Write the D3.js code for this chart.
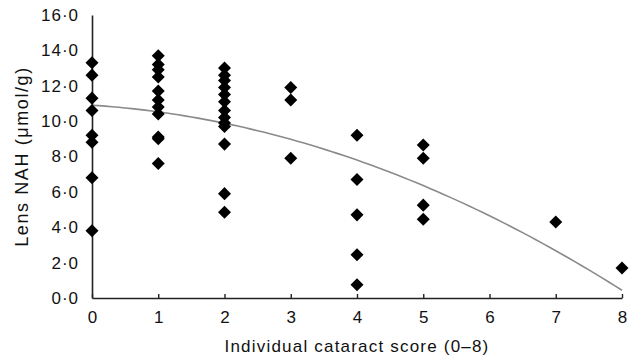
<!DOCTYPE html>
<html>
<head>
<meta charset="utf-8">
<script src="https://cdn.jsdelivr.net/npm/d3@7"></script>
<style>
  body { margin: 0; background: #fff; }
  text { font-family: "Liberation Sans", Arial, sans-serif; fill: #111; letter-spacing: 1px; }
</style>
</head>
<body>
<div id="graph"></div>
<script>
// cataract score per column and the NAH values read for each
const scores = [0, 1, 2, 3, 4, 5, 7, 8];
const nahValues = [
    [13.3, 12.6, 11.3, 10.6, 9.2, 8.8, 6.8, 3.8],
    [13.7, 13.2, 12.9, 12.5, 11.7, 11.2, 10.8, 10.4, 9.1, 9.0, 7.6],
    [13.0, 12.6, 12.3, 11.9, 11.5, 11.1, 10.6, 10.2, 9.9, 9.7, 8.7, 5.9, 4.85],
    [11.9, 11.2, 7.9],
    [9.2, 6.7, 4.7, 2.45, 0.75],
    [8.65, 7.9, 5.25, 4.45],
    [4.3],
    [1.7]
];
const xTicks = [0, 1, 2, 3, 4, 5, 6, 7, 8];
const yTicks = [0, 2, 4, 6, 8, 10, 12, 14, 16];
// quadratic trend line: a + b*x + c*x^2
const fitCoef = { a: 10.9, b: -0.244, c: -0.133 };

const width = 643;
const height = 359;
const margin = { top: 15, right: 21, bottom: 61, left: 92 };

const svg = d3.select('#graph').append('svg')
    .attr('width', width)
    .attr('height', height);

const scaleX = d3.scaleLinear().domain([0, 8]).range([margin.left, width - margin.right]);
const scaleY = d3.scaleLinear().domain([0, 16]).range([height - margin.bottom, margin.top]);

const fmt = v => v.toFixed(1).replace('.', '\u00b7');

// x axis, ticks point inwards
const xAxis = svg.append('g')
    .attr('transform', 'translate(0,' + scaleY(0) + ')')
    .call(d3.axisBottom(scaleX).tickValues(xTicks).tickSizeInner(-4).tickSizeOuter(0).tickPadding(13).tickFormat(d3.format('d')));
xAxis.select('.domain').attr('stroke', '#222').attr('stroke-width', 1.6);
xAxis.selectAll('.tick line').attr('stroke', '#222').attr('stroke-width', 1.4);
xAxis.selectAll('.tick text').attr('font-size', 17).attr('fill', '#111').style('letter-spacing', '0px');

// y axis, no tick marks
const yAxis = svg.append('g')
    .attr('transform', 'translate(' + scaleX(0) + ',0)')
    .call(d3.axisLeft(scaleY).tickValues(yTicks).tickSize(0).tickPadding(13).tickFormat(fmt));
yAxis.select('.domain').attr('stroke', '#222').attr('stroke-width', 1.6);
yAxis.selectAll('.tick text').attr('font-size', 17).attr('fill', '#111');

// trend curve
const curveX = d3.range(0, 8.001, 0.1);
const line = d3.line()
    .x(d => scaleX(d))
    .y(d => scaleY(fitCoef.a + fitCoef.b * d + fitCoef.c * d * d));
svg.append('path')
    .datum(curveX)
    .attr('d', line)
    .attr('fill', 'none')
    .attr('stroke', '#8a8a8a')
    .attr('stroke-width', 1.6);

// points
const points = [];
scores.forEach((s, i) => nahValues[i].forEach(v => points.push({ x: s, y: v })));

const diamond = d3.symbol().type(d3.symbolSquare).size(85);
svg.append('g').selectAll('path')
    .data(points)
    .enter().append('path')
        .attr('d', diamond)
        .attr('transform', d => 'translate(' + scaleX(d.x) + ',' + scaleY(d.y) + ') rotate(45)')
        .attr('fill', '#000');

// axis titles
svg.append('text')
    .attr('x', (scaleX(0) + scaleX(8)) / 2)
    .attr('y', 352)
    .attr('text-anchor', 'middle')
    .attr('font-size', 17)
    .style('letter-spacing', '1.2px')
    .text('Individual cataract score (0\u20138)');

svg.append('text')
    .attr('transform', 'translate(28,' + (scaleY(0) + scaleY(16)) / 2 + ') rotate(-90)')
    .attr('text-anchor', 'middle')
    .attr('font-size', 18)
    .style('letter-spacing', '1.6px')
    .text('Lens NAH (\u03bcmol/g)');
</script>
</body>
</html>
